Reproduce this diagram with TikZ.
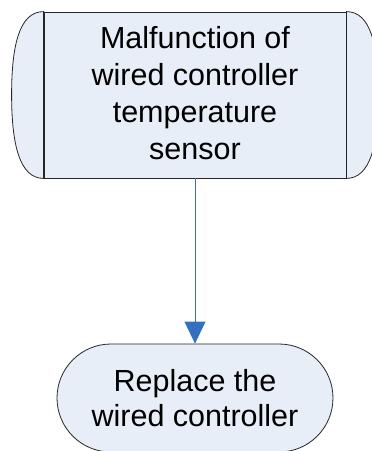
\documentclass[tikz,border=0pt]{standalone}
\usepackage{fontspec}
\setmainfont{Liberation Sans}
\usetikzlibrary{shapes.misc,arrows.meta}
\definecolor{boxfill}{RGB}{232,238,247}
\definecolor{flowblue}{RGB}{52,112,192}
\tikzset{
  boxline/.style={draw=black!85, line width=0.8pt, fill=boxfill},
  label/.style={font=\fontsize{30.5}{37}\selectfont, align=center, inner sep=0pt},
  flow/.style={draw=flowblue, line width=0.9pt, -{Triangle[width=21pt,length=22pt,fill=flowblue]}},
}
\begin{document}
\begin{tikzpicture}[x=1pt,y=1pt]
  \useasboundingbox (0,0) rectangle (372,-451);
  \clip (0,0) rectangle (372,-451);
  % process box with curved side caps
  \node[boxline, rectangle, minimum width=302pt, minimum height=166pt, inner sep=0pt] (fault) at (195,-95) {};
  \path[boxline] (fault.north west) .. controls +(-24,0) and +(0,50) .. ++(-32,-83)
        .. controls +(0,-50) and +(-24,0) .. (fault.south west) -- cycle;
  \path[boxline] (fault.north east) .. controls +(24,0) and +(0,50) .. ++(32,-83)
        .. controls +(0,-50) and +(24,0) .. (fault.south east) -- cycle;
  \node[label] (faulttext) at (195,-93.5) {Malfunction of\\wired controller\\temperature\\sensor};
  % terminal
  \node[boxline, rounded rectangle, minimum width=276pt, minimum height=108pt, inner sep=0pt] (replace) at (195,-398) {};
  \node[label, font=\fontsize{30.5}{35}\selectfont] (replacetext) at (195,-398) {Replace the\\wired controller};
  % connector
  \draw[flow] (fault.south) -- (replace.north);
\end{tikzpicture}
\end{document}
